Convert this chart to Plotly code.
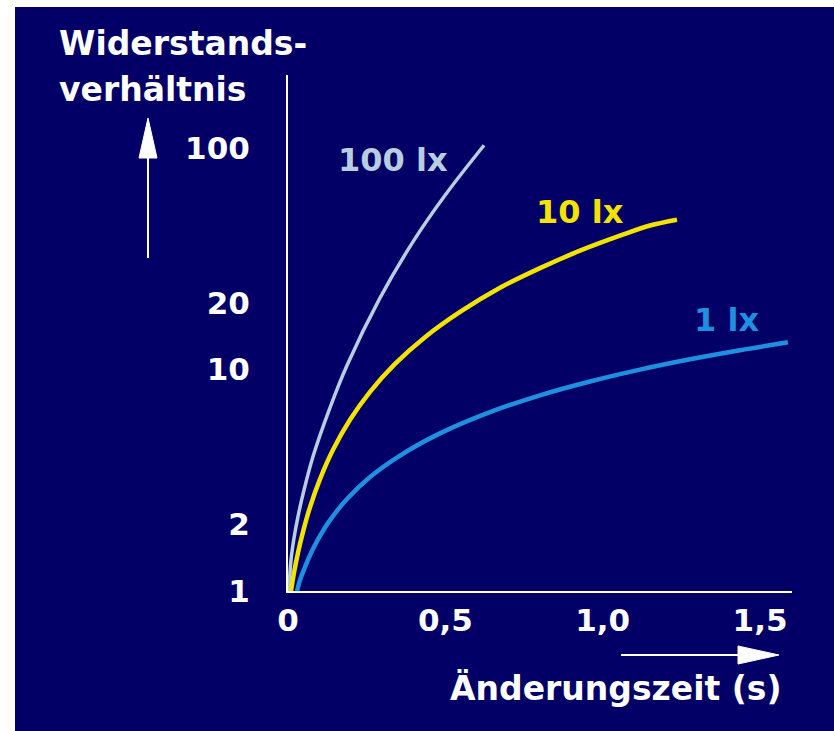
import plotly.graph_objects as go

# ---- data ----
t_100lx = [0.003, 0.0095, 0.019, 0.032, 0.051, 0.079, 0.133, 0.187, 0.292, 0.397, 0.502, 0.623]
r_100lx = [1.0, 1.38, 1.73, 2.18, 2.86, 4.03, 6.70, 10.4, 21.0, 37.7, 62.0, 103]

t_10lx = [0.0095, 0.0191, 0.0318, 0.0477, 0.0699, 0.1017, 0.1430, 0.1970, 0.2606, 0.3400,
          0.4353, 0.5466, 0.6737, 0.8008, 0.9279, 1.0550, 1.1503, 1.2361]
r_10lx = [1.0, 1.21, 1.49, 1.85, 2.39, 3.20, 4.34, 5.93, 7.93, 10.6,
          14.0, 18.2, 23.4, 28.7, 34.4, 40.2, 44.7, 47.5]

t_1lx = [0.0286, 0.0381, 0.0508, 0.0699, 0.0953, 0.1335, 0.1875, 0.2606, 0.3559, 0.4830,
         0.6419, 0.8008, 0.9597, 1.1185, 1.2774, 1.4363, 1.5888]
r_1lx = [1.0, 1.12, 1.25, 1.45, 1.71, 2.09, 2.60, 3.27, 4.09, 5.15,
         6.42, 7.65, 8.83, 9.99, 11.12, 12.22, 13.27]

series_names = ["100 lx", "10 lx", "1 lx"]
x_tickvals = [0, 0.5, 1.0, 1.5]
x_ticktext = ["0", "0,5", "1,0", "1,5"]
y_tickvals = [1, 2, 10, 20, 100]
y_ticktext = ["1", "2", "10", "20", "100"]
y_title_lines = ["Widerstands-", "verhältnis"]
x_title = "Änderungszeit (s)"

# ---- layout geometry ----
W, H = 834, 731
L, R, T, B = 288, 42, 75, 140
PW, PH = W - L - R, H - T - B

def px(x):
    return (x - L) / PW

def py(y):
    return (H - B - y) / PH

NAVY = "#020066"
C100 = "#b8cde0"
C10 = "#f2e400"
C1 = "#1f8fe0"
FONT = "DejaVu Sans"

fig = go.Figure()
for t, r, c, w, n in [(t_100lx, r_100lx, C100, 3.5, series_names[0]),
                      (t_10lx, r_10lx, C10, 4.5, series_names[1]),
                      (t_1lx, r_1lx, C1, 4.5, series_names[2])]:
    fig.add_trace(go.Scatter(x=t, y=r, mode="lines", name=n, hoverinfo="skip",
                             line=dict(color=c, width=w, shape="spline", smoothing=1.0)))

shapes = [
    dict(type="rect", xref="paper", yref="paper", x0=px(15), x1=px(840), y0=py(7), y1=py(740),
         fillcolor=NAVY, line=dict(width=0), layer="below"),
    dict(type="line", xref="paper", yref="paper", x0=px(148), x1=px(148), y0=py(258), y1=py(150),
         line=dict(color="white", width=2)),
    dict(type="path", xref="paper", yref="paper",
         path=f"M {px(148)} {py(118)} L {px(139)} {py(158)} L {px(157)} {py(158)} Z",
         fillcolor="white", line=dict(color="white", width=1)),
    dict(type="line", xref="paper", yref="paper", x0=px(621), x1=px(745), y0=py(655), y1=py(655),
         line=dict(color="white", width=2)),
    dict(type="path", xref="paper", yref="paper",
         path=f"M {px(779)} {py(655)} L {px(738)} {py(646)} L {px(738)} {py(664)} Z",
         fillcolor="white", line=dict(color="white", width=1)),
]

tfont = dict(family=FONT, size=33, color="white", weight="bold")
annotations = [
    dict(text=y_title_lines[0], x=px(57), y=py(44), xanchor="left", yanchor="middle"),
    dict(text=y_title_lines[1], x=px(57), y=py(89), xanchor="left", yanchor="middle"),
    dict(text=x_title, x=px(784), y=py(688), xanchor="right", yanchor="middle"),
    dict(text=series_names[0], x=px(393), y=py(160), xanchor="center", yanchor="middle",
         font=dict(family=FONT, size=32, color=C100, weight="bold")),
    dict(text=series_names[1], x=px(580), y=py(212), xanchor="center", yanchor="middle",
         font=dict(family=FONT, size=32, color=C10, weight="bold")),
    dict(text=series_names[2], x=px(726), y=py(320), xanchor="center", yanchor="middle",
         font=dict(family=FONT, size=32, color=C1, weight="bold")),
]
for a in annotations:
    a.setdefault("font", tfont)
    a.update(xref="paper", yref="paper", showarrow=False)

fig.update_layout(
    width=W, height=H, autosize=False,
    margin=dict(l=L, r=R, t=T, b=B, pad=0),
    paper_bgcolor="white", plot_bgcolor="rgba(0,0,0,0)",
    showlegend=False, hovermode=False,
    shapes=shapes, annotations=annotations,
    font=dict(family=FONT, color="white"),
    xaxis=dict(range=[0, 1.6016], tickvals=x_tickvals, ticktext=x_ticktext,
               showgrid=False, zeroline=False, showline=True, linecolor="white", linewidth=2,
               ticks="", ticklabelstandoff=1,
               tickfont=dict(family=FONT, size=31, color="white", weight="bold")),
    yaxis=dict(type="log", range=[0, 2.33], tickvals=y_tickvals, ticktext=y_ticktext,
               showgrid=False, zeroline=False, showline=True, linecolor="white", linewidth=2,
               ticks="", ticklabelstandoff=30,
               tickfont=dict(family=FONT, size=31, color="white", weight="bold")),
)

fig.write_html("out.html", config={"displayModeBar": False},
               post_script="document.body.style.margin='0';document.body.style.overflow='hidden';")
